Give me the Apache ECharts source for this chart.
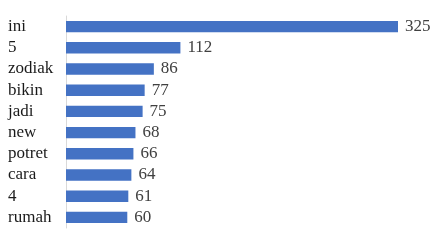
<!DOCTYPE html>
<html><head><meta charset="utf-8">
<script src="https://cdn.jsdelivr.net/npm/echarts@6/dist/echarts.min.js"></script>
<style>html,body{margin:0;padding:0;background:#fff}#c{width:445px;height:246px}</style>
</head><body><div id="c"></div>
<script>
const categories = ["ini","5","zodiak","bikin","jadi","new","potret","cara","4","rumah"];
const values = [325,112,86,77,75,68,66,64,61,60];

const chart = echarts.init(document.getElementById('c'), null, {renderer:'canvas'});
chart.setOption({
  animation:false,
  backgroundColor:'#fff',
  grid:{left:66, right:47, top:16, bottom:18, containLabel:false},
  xAxis:{type:'value', min:0, max:325, show:false},
  yAxis:{type:'category', data:categories, inverse:true,
    axisLine:{show:true, lineStyle:{color:'#d9d9d9', width:1}},
    axisTick:{show:false},
    axisLabel:{interval:0, align:'left', margin:58, color:'#1a1a1a', fontFamily:'Liberation Serif', fontSize:17}
  },
  series:[{type:'bar', data:values, barCategoryGap:'46%',
    itemStyle:{color:'#4472C4'},
    label:{show:true, position:'right', distance:7, color:'#404040', fontFamily:'Liberation Serif', fontSize:17}
  }]
});
</script></body></html>
